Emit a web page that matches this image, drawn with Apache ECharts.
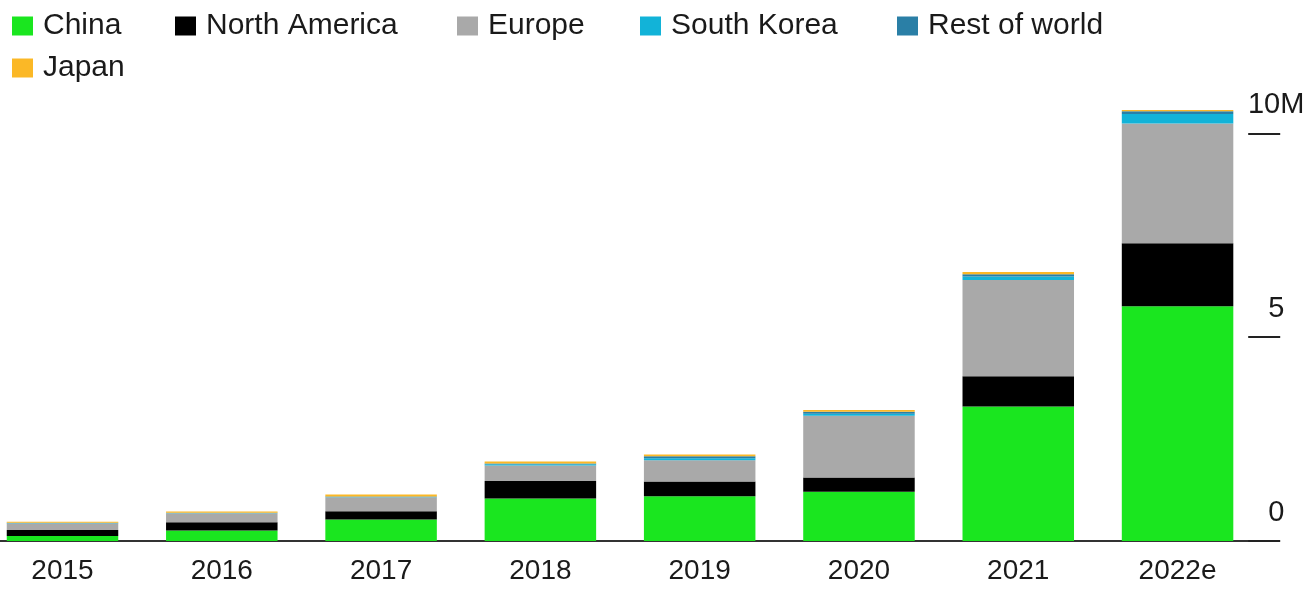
<!DOCTYPE html>
<html>
<head>
<meta charset="utf-8">
<title>EV sales by region</title>
<script src="https://cdn.jsdelivr.net/npm/echarts@6/dist/echarts.min.js"></script>
<style>
  html, body { margin: 0; padding: 0; background: #ffffff; }
  #chart { width: 1310px; height: 589px; }
</style>
</head>
<body>
<div id="chart"></div>
<script>
// Annual passenger EV sales by region, millions of vehicles
const years = ['2015', '2016', '2017', '2018', '2019', '2020', '2021', '2022e'];
const china        = [0.12, 0.26, 0.53, 1.04, 1.10, 1.21, 3.30, 5.76];
const northAmerica = [0.15, 0.20, 0.20, 0.43, 0.36, 0.35, 0.74, 1.54];
const europe       = [0.16, 0.22, 0.34, 0.38, 0.52, 1.51, 2.36, 2.94];
const southKorea   = [0.005, 0.005, 0.01, 0.03, 0.05, 0.05, 0.09, 0.23];
const restOfWorld  = [0.01, 0.01, 0.01, 0.02, 0.05, 0.05, 0.05, 0.07];
const japan        = [0.03, 0.03, 0.05, 0.05, 0.04, 0.04, 0.06, 0.03];

const yTickValues = [0, 5, 10];
const yTickLabels = ['0', '5', '10M'];

const regions = [
  { name: 'China',         data: china,        color: '#1ae61f' },
  { name: 'North America', data: northAmerica, color: '#000000' },
  { name: 'Europe',        data: europe,       color: '#a9a9a9' },
  { name: 'South Korea',   data: southKorea,   color: '#12b3d8' },
  { name: 'Rest of world', data: restOfWorld,  color: '#2a7fa6' },
  { name: 'Japan',         data: japan,        color: '#fbb826' }
];

const FONT = '"Liberation Sans", Arial, Helvetica, sans-serif';

// One legend block per entry so the two-row layout sits where intended
const legendSlots = [
  { name: 'China',         left: 12,  top: 11 },
  { name: 'North America', left: 175, top: 11 },
  { name: 'Europe',        left: 457, top: 11 },
  { name: 'South Korea',   left: 640, top: 11 },
  { name: 'Rest of world', left: 897, top: 11 },
  { name: 'Japan',         left: 12,  top: 53 }
];

const chart = echarts.init(document.getElementById('chart'), null, { renderer: 'canvas' });

chart.setOption({
  animation: false,
  backgroundColor: '#ffffff',
  textStyle: { fontFamily: FONT },
  legend: legendSlots.map(s => ({
    data: [s.name],
    left: s.left,
    top: s.top,
    padding: 0,
    orient: 'horizontal',
    itemWidth: 21,
    itemHeight: 19,
    icon: 'rect',
    selectedMode: false,
    textStyle: {
      fontFamily: FONT,
      fontSize: 30,
      color: '#1a1a1a',
      padding: [0, 0, 0, 5]
    }
  })),
  grid: {
    left: -17.14,
    right: 52.8,
    top: 92.5,
    bottom: 48,
    outerBoundsMode: 'none',
    containLabel: false
  },
  xAxis: {
    type: 'category',
    data: years,
    axisLine: { show: true, lineStyle: { color: '#333333', width: 2 } },
    axisTick: { show: false },
    axisLabel: {
      fontFamily: FONT,
      fontSize: 28,
      color: '#1a1a1a',
      margin: 15,
      lineHeight: 30
    },
    splitLine: { show: false }
  },
  yAxis: {
    type: 'value',
    position: 'right',
    offset: -9,
    min: 0,
    max: 11,
    interval: 5,
    axisLine: { show: false },
    axisTick: {
      show: true,
      inside: false,
      length: 32,
      lineStyle: { color: '#222222', width: 2 },
      customValues: yTickValues
    },
    axisLabel: {
      show: true,
      customValues: yTickValues,
      fontFamily: FONT,
      fontSize: 29,
      color: '#1a1a1a',
      margin: 28,
      align: 'center',
      verticalAlign: 'middle',
      lineHeight: 28,
      // label sits on the first of three lines, so it rides above its tick
      formatter: v => {
        const i = yTickValues.indexOf(v);
        return (i >= 0 ? yTickLabels[i] : '') + '\n \n ';
      }
    },
    splitLine: { show: false }
  },
  series: regions.map(r => ({
    name: r.name,
    type: 'bar',
    stack: 'total',
    data: r.data,
    barWidth: '70%',
    clip: false,
    itemStyle: { color: r.color },
    emphasis: { disabled: true }
  }))
});
</script>
</body>
</html>
